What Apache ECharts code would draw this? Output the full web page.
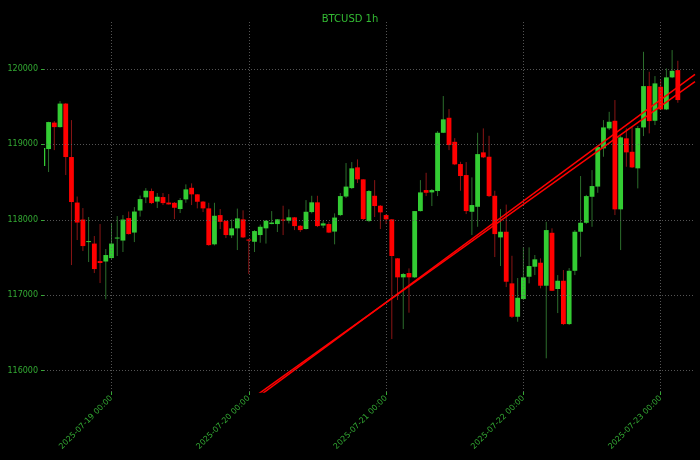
<!DOCTYPE html>
<html>
<head>
<meta charset="utf-8">
<script src="https://cdn.jsdelivr.net/npm/echarts@6.0.0/dist/echarts.min.js"></script>
<style>
  html, body { margin: 0; padding: 0; background: #000; }
  #chart { width: 700px; height: 460px; }
</style>
</head>
<body>
<div id="chart"></div>
<script>
// Hourly candles, index 0 = 2025-07-18 12:00
const opens = [118712,118938,119289,119229,119541,118832,118228,118003,117704,117684,117452,117446,117492,117751,117724,118022,117830,118122,118297,118381,118241,118301,118228,118225,118142,118270,118424,118337,118241,118151,117674,118062,117983,117793,117886,118005,117737,117708,117797,117886,117943,117943,118003,117987,118032,117920,117877,118102,118231,117923,117943,117843,118062,118308,118420,118695,118536,117983,118318,118186,118062,118005,117488,117236,117293,117236,118115,118394,118363,118381,119154,119353,119034,118739,118593,118106,118172,118894,118836,118318,117766,117841,117156,116713,116948,117244,117377,117430,117125,117827,117081,117191,116616,117323,117841,117960,118305,118440,118947,119212,119313,118138,119080,118902,118682,119225,119773,119313,119764,119464,119889,119985];
const closes = [118951,119296,119229,119541,118832,118235,117963,117651,117717,117346,117426,117532,117684,117764,118003,117810,118109,118274,118385,118221,118305,118221,118204,118159,118261,118403,118337,118239,118151,117664,118053,117973,117797,117886,118018,117766,117724,117850,117907,117987,117963,118005,117989,118032,117916,117863,118106,118231,117916,117952,117830,118029,118314,118440,118682,118536,118009,118381,118182,118098,118005,117519,117236,117280,117236,118115,118363,118358,118394,119154,119332,118991,118735,118580,118115,118195,118871,118828,118314,117810,117841,117178,116713,116965,117236,117386,117475,117125,117863,117058,117191,116616,117323,117841,117960,118314,118447,118964,119225,119300,118138,119093,118894,118695,119216,119773,119309,119809,119464,119889,119976,119588];
const highs = [118977,119300,119309,119574,119548,119322,118308,118155,118036,117784,117943,117611,117956,118049,118062,118109,118168,118321,118420,118414,118354,118354,118341,118235,118288,118469,118483,118341,118248,118225,118225,118142,117996,118003,118148,118125,117744,117863,117936,117996,118115,118009,118186,118138,118036,117930,118261,118318,118318,117983,117973,118085,118354,118752,118765,118801,118540,118394,118526,118195,118075,118009,117492,117293,117355,118115,118526,118623,118407,119176,119641,119468,119083,118769,118765,118562,119154,119212,119114,118385,118142,118201,117522,117227,117634,117634,117532,117488,117973,117886,117266,117333,117359,117863,118580,118330,118659,118977,119322,119432,119588,119110,119212,119233,119243,120228,119963,119906,119853,120008,120251,120109];
const lows = [118686,118633,118924,119223,118593,117399,117731,117585,117439,117293,117160,116945,117479,117519,117572,117804,117704,118042,118221,118208,118155,118195,118202,118009,118089,118225,118195,118151,118102,117655,117660,117877,117757,117757,117598,117757,117280,117572,117695,117684,117940,117837,117797,117952,117863,117837,117870,118085,117903,117890,117823,117674,118049,118288,118407,118487,117996,117969,118036,117877,117943,116418,116935,116550,116767,117227,118110,118314,118182,118314,119150,118924,118725,118385,118075,117797,117907,118818,118301,117505,117386,117107,116696,116647,116935,117156,117266,117090,116162,117054,116762,116603,116603,117266,117509,117945,117907,118358,118836,119190,118062,117598,118703,118686,118416,119110,119146,119256,119455,119455,119879,119552];

// x-axis ticks (hour index) and their labels
const xTickHours = [12, 36, 60, 84, 108];
const xTickLabels = ['2025-07-19 00:00', '2025-07-20 00:00', '2025-07-21 00:00', '2025-07-22 00:00', '2025-07-23 00:00'];
// y-axis ticks
const yTicks = [116000, 117000, 118000, 119000, 120000];

// Two trend lines: [hour index, price]
const trendUpper = [[36, 115560], [114, 119930]];
const trendLower = [[36, 115598], [114, 119832]];

const candleData = opens.map((o, i) => [i, o, closes[i], lows[i], highs[i]]);

const GREEN = '#33cc33', RED = '#ff0000';
const WICK_UP = '#2c6e2c', WICK_DN = '#8a1515';
const TXT = '#33aa33';
const FONT = 'DejaVu Sans';

function renderCandle(params, api) {
  const x = api.value(0);
  const o = api.value(1), c = api.value(2), l = api.value(3), h = api.value(4);
  const pO = api.coord([x, o]);
  const pC = api.coord([x, c]);
  const pL = api.coord([x, l]);
  const pH = api.coord([x, h]);
  const w = api.size([1, 0])[0] * 0.84;
  const up = c >= o;
  const cs = params.coordSys;
  const top = Math.min(pO[1], pC[1]);
  let bh = Math.abs(pO[1] - pC[1]);
  if (bh < 1) bh = 1;
  const rect = echarts.graphic.clipRectByRect(
    { x: pO[0] - w / 2, y: top, width: w, height: bh },
    { x: cs.x, y: cs.y, width: cs.width, height: cs.height }
  );
  const children = [];
  if (pO[0] >= cs.x && pO[0] <= cs.x + cs.width) {
    children.push({
      type: 'line',
      shape: { x1: pH[0], y1: pH[1], x2: pL[0], y2: pL[1] },
      style: { stroke: up ? WICK_UP : WICK_DN, lineWidth: 1 }
    });
  }
  if (rect) {
    children.push({ type: 'rect', shape: rect, style: { fill: up ? GREEN : RED } });
  }
  return { type: 'group', children };
}

const gridLineStyle = { color: '#6a6a6a', type: [1, 2], width: 0.8 };

const chart = echarts.init(document.getElementById('chart'), null, { renderer: 'canvas' });
chart.setOption({
  backgroundColor: '#000',
  animation: false,
  title: {
    text: 'BTCUSD 1h',
    left: 'center',
    top: 9,
    textStyle: { color: '#33bb33', fontSize: 10, fontWeight: 'normal', fontFamily: FONT }
  },
  grid: { left: 44, right: 5, top: 20, bottom: 68 },
  xAxis: {
    type: 'value',
    min: 0.2,
    max: 114,
    axisLine: { show: false },
    splitLine: { show: false },
    axisTick: { show: true, customValues: xTickHours, length: 3, lineStyle: { color: TXT } },
    axisLabel: {
      customValues: xTickHours,
      rotate: 45,
      margin: 5,
      color: TXT,
      fontSize: 8,
      fontFamily: FONT,
      formatter: (v) => xTickLabels[xTickHours.indexOf(v)] || ''
    }
  },
  yAxis: {
    type: 'value',
    min: 115715,
    max: 120650,
    axisLine: { show: false },
    splitLine: { show: false },
    axisTick: { show: true, customValues: yTicks, length: 3, lineStyle: { color: TXT } },
    axisLabel: {
      customValues: yTicks,
      margin: 6,
      color: TXT,
      fontSize: 8,
      fontFamily: FONT,
      formatter: (v) => String(Math.round(v))
    }
  },
  series: [
    {
      type: 'line',
      data: [],
      z: 1,
      silent: true,
      markLine: {
        silent: true,
        symbol: ['none', 'none'],
        label: { show: false },
        lineStyle: gridLineStyle,
        emphasis: { disabled: true },
        animation: false,
        data: xTickHours.map(v => ({ xAxis: v })).concat(yTicks.map(v => ({ yAxis: v })))
      }
    },
    {
      type: 'custom',
      z: 2,
      renderItem: renderCandle,
      encode: { x: 0, y: [1, 2, 3, 4] },
      data: candleData,
      silent: true
    },
    {
      type: 'line',
      z: 3,
      data: trendUpper,
      showSymbol: false,
      clip: true,
      silent: true,
      lineStyle: { color: '#ff0000', width: 1.5 }
    },
    {
      type: 'line',
      z: 3,
      data: trendLower,
      showSymbol: false,
      clip: true,
      silent: true,
      lineStyle: { color: '#ff0000', width: 1.5 }
    }
  ]
});
</script>
</body>
</html>
